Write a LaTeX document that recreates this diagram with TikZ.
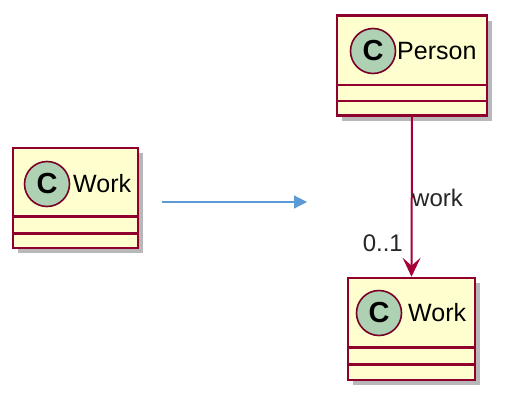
\documentclass[tikz,border=0pt]{standalone}
\usepackage{fontspec}
\setmainfont{Liberation Sans}
\usetikzlibrary{arrows.meta,shadows}
\definecolor{classfill}{HTML}{FEFECE}
\definecolor{classline}{HTML}{A80036}
\definecolor{spotfill}{HTML}{ADD1B2}
\definecolor{linkblue}{HTML}{5B9BD5}
\begin{document}
\begin{tikzpicture}[x=1pt,y=-1pt,
  umlclass/.style={draw=classline!85!black,fill=classfill,line width=2.6pt,inner sep=0pt,
    drop shadow={shadow xshift=5pt,shadow yshift=-5pt,fill=black!55,opacity=.5}},
  spot/.style={circle,draw=classline!70!black,fill=spotfill,line width=1.6pt,minimum size=45pt,inner sep=0pt,
    font=\fontsize{29}{29}\selectfont\bfseries},
  cname/.style={font=\fontsize{25}{29}\selectfont,inner sep=0pt},
  lbl/.style={font=\fontsize{24}{28}\selectfont,inner sep=0pt,text=black!85}]
\useasboundingbox[fill=white] (0,0) rectangle (509,402);
% left class
\node[umlclass,minimum width=125pt,minimum height=100pt] (workA) at (75.5,198) {};
\draw[classline!85!black,line width=2.4pt] ([yshift=33pt]workA.south west) -- ([yshift=33pt]workA.south east);
\draw[classline!85!black,line width=2.4pt] ([yshift=16pt]workA.south west) -- ([yshift=16pt]workA.south east);
\node[spot] (spotA) at (47,184) {C};
\node[cname,anchor=west] (nameA) at (73,184) {Work};
% person
\node[umlclass,minimum width=150pt,minimum height=100pt] (person) at (412,65.5) {};
\draw[classline!85!black,line width=2.4pt] ([yshift=32pt]person.south west) -- ([yshift=32pt]person.south east);
\draw[classline!85!black,line width=2.4pt] ([yshift=16pt]person.south west) -- ([yshift=16pt]person.south east);
\node[spot] (spotP) at (373,51) {C};
\node[cname,anchor=west] (nameP) at (397,51) {Person};
% lower class
\node[umlclass,minimum width=127pt,minimum height=102pt] (workB) at (411.5,329) {};
\draw[classline!85!black,line width=2.4pt] ([yshift=34pt]workB.south west) -- ([yshift=34pt]workB.south east);
\draw[classline!85!black,line width=2.4pt] ([yshift=17pt]workB.south west) -- ([yshift=17pt]workB.south east);
\node[spot] (spotB) at (379,313) {C};
\node[cname,anchor=west] (nameB) at (408,313) {Work};
% links
\coordinate (from) at (162,202);
\coordinate (to) at (307,202);
\draw[linkblue,line width=1.2pt,-{Triangle[length=13pt,width=13pt]}] (from) -- (to);
\draw[classline,line width=2pt,-{Stealth[length=19pt,width=18pt,inset=8pt]}] (person.south) -- (workB.north);
\node[lbl,anchor=west] (role) at (412,198) {work};
\node[lbl,anchor=east] (mult) at (403,243) {0..1};
\end{tikzpicture}
\end{document}
